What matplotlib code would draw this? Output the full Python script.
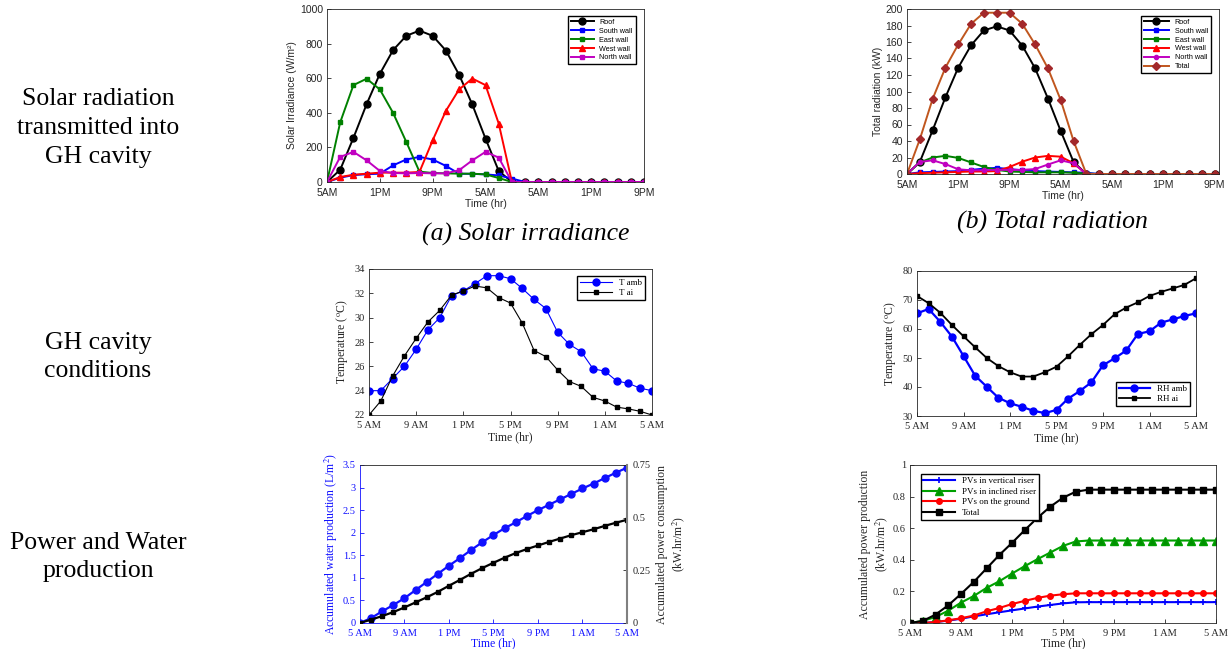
import matplotlib
matplotlib.use("Agg")
import matplotlib.pyplot as plt
import numpy as np

plt.rcParams['mathtext.fontset'] = 'stix'

# ---------------- data ----------------
hours = list(range(25))

# (a) Solar irradiance (W/m2)
roof_a  = [0, 71, 255, 450, 625, 762, 845, 875, 845, 760, 620, 448, 251, 64, 0] + [0]*10
south_a = [0, 25, 40, 45, 48, 96, 130, 145, 130, 93, 48, 47, 44, 38, 20] + [0]*10
east_a  = [0, 345, 560, 597, 535, 400, 232, 60, 52, 50, 48, 48, 44, 23, 0] + [0]*10
west_a  = [0, 29, 42, 48, 54, 54, 54, 58, 241, 411, 535, 598, 560, 338, 0] + [0]*10
north_a = [0, 145, 174, 125, 64, 52, 50, 52, 50, 50, 68, 125, 174, 141, 0] + [0]*10

# (b) Total radiation (kW)
roof_b  = [0, 14.6, 53, 93, 129, 156, 174, 179, 174, 155.5, 128, 91.5, 52, 14.6, 0] + [0]*10
south_b = [0, 2, 2.5, 3, 3.5, 5, 6.5, 7.5, 6, 4.5, 3.5, 3, 2.5, 2, 1.5] + [0]*10
east_b  = [0, 14, 20, 22, 19.5, 14, 8.5, 5, 3, 2.5, 2, 2, 2, 1.5, 0.5] + [0]*10
west_b  = [0, 1, 1.5, 2, 2.5, 3, 3, 3.5, 8.5, 15, 20, 22, 21, 13, 0] + [0]*10
north_b = [0, 14.6, 16.6, 12, 5.7, 4.5, 4.5, 5, 5, 5, 6, 11.5, 16.6, 13, 0] + [0]*10
total_b = [0, 42, 91, 129, 157, 182, 195.5, 195.5, 195.5, 182, 157, 128, 89.5, 40, 0] + [0]*10

# (c) Temperature
t_amb = [24.0, 24.0, 25.0, 26.0, 27.4, 29.0, 30.0, 31.8, 32.2, 32.8, 33.45, 33.45, 33.2,
         32.4, 31.5, 30.75, 28.8, 27.8, 27.2, 25.8, 25.6, 24.8, 24.6, 24.2, 24.0]
t_ai = [22.0, 23.15, 25.2, 26.85, 28.3, 29.65, 30.6, 31.85, 32.2, 32.6, 32.45, 31.65, 31.2,
        29.55, 27.3, 26.8, 25.7, 24.75, 24.35, 23.45, 23.15, 22.65, 22.5, 22.3, 22.0]

# (d) Relative humidity
rh_amb = [65.4, 66.9, 62.5, 57.4, 50.7, 43.9, 40.1, 36.3, 34.4, 33.2, 31.8, 31.0, 32.1,
          36.0, 38.6, 41.6, 47.5, 49.9, 52.6, 58.3, 59.2, 62.2, 63.3, 64.5, 65.4]
rh_ai = [71.4, 68.9, 65.6, 61.4, 57.5, 53.7, 50.0, 47.2, 45.1, 43.6, 43.6, 45.1, 47.0,
         50.6, 54.5, 58.2, 61.4, 65.1, 67.4, 69.2, 71.4, 72.8, 74.0, 75.2, 77.5]

# (e) Accumulated water production and power consumption
water = [0, 0.11, 0.26, 0.40, 0.55, 0.73, 0.91, 1.09, 1.27, 1.44, 1.62, 1.79, 1.95, 2.10,
         2.23, 2.37, 2.50, 2.62, 2.74, 2.86, 2.98, 3.09, 3.21, 3.33, 3.44]
power_cons = [0, 0.016, 0.033, 0.052, 0.074, 0.098, 0.122, 0.148, 0.177, 0.205, 0.234, 0.261,
              0.286, 0.310, 0.332, 0.351, 0.368, 0.385, 0.401, 0.417, 0.431, 0.445, 0.461,
              0.476, 0.490]

# (f) Accumulated power production
pv_vert = [0, 0, 0.006, 0.015, 0.027, 0.042, 0.055, 0.068, 0.080, 0.092, 0.104, 0.114,
           0.124, 0.131, 0.132] + [0.132]*10
pv_incl = [0, 0.013, 0.038, 0.078, 0.129, 0.171, 0.222, 0.264, 0.313, 0.360, 0.404, 0.446,
           0.488, 0.516, 0.522] + [0.522]*10
pv_ground = [0, 0, 0.006, 0.017, 0.030, 0.047, 0.074, 0.095, 0.120, 0.140, 0.159, 0.173,
             0.182, 0.188, 0.188] + [0.188]*10
pv_total = [0, 0.013, 0.053, 0.112, 0.184, 0.260, 0.345, 0.430, 0.507, 0.588, 0.666, 0.736,
            0.793, 0.831, 0.844] + [0.844]*10

ticks_ab = ['5AM', '1PM', '9PM', '5AM', '5AM', '1PM', '9PM']
ticks_cf = ['5 AM', '9 AM', '1 PM', '5 PM', '9 PM', '1 AM', '5 AM']

# ---------------- figure ----------------
W, H = 1229, 649
fig = plt.figure(figsize=(W/100, H/100), dpi=100)

def ax_at(l, r, t, b):
    return fig.add_axes([l/W, 1 - b/H, (r-l)/W, (b-t)/H])

SANS = 'Liberation Sans'
SERIF = 'Liberation Serif'
GRAY = '#262626'

def style(ax, family, fs, color=GRAY):
    ax.tick_params(direction='in', length=3, width=0.6, labelsize=fs, colors=color,
                   top=False, right=False)
    ax.tick_params(axis='x', pad=4)
    ax.tick_params(axis='y', pad=3)
    for lab in ax.get_xticklabels() + ax.get_yticklabels():
        lab.set_family(family)
    for s in ax.spines.values():
        s.set_linewidth(0.6)
        s.set_color(color)

# (a)
ax = ax_at(327, 644, 9, 182)
ax.plot(hours, roof_a, '-o', color='black', ms=5, lw=1.4, label='Roof')
ax.plot(hours, south_a, '-s', color='blue', ms=3, lw=1.4, label='South wall')
ax.plot(hours, east_a, '-s', color='#008000', ms=2.5, lw=1.4, label='East wall')
ax.plot(hours, west_a, '-^', color='red', ms=5, lw=1.4, label='West wall')
ax.plot(hours, north_a, '-s', color='#C000C0', ms=3, lw=1.4, label='North wall')
ax.set_xlim(0, 24)
ax.set_ylim(0, 1000)
ax.set_xticks(range(0, 25, 4))
ax.set_xticklabels(ticks_ab)
ax.set_yticks(range(0, 1001, 200))
style(ax, SANS, 7.5)
ax.set_xlabel('Time (hr)', family=SANS, fontsize=7.5, color=GRAY, labelpad=1)
ax.set_ylabel('Solar Irradiance (W/m²)', family=SANS, fontsize=7.5, color=GRAY, labelpad=2)
ax.legend(loc='upper right', prop={'family': SANS, 'size': 5.2}, fancybox=False,
          edgecolor='black', framealpha=1, borderpad=0.4, labelspacing=0.25,
          handlelength=3.2, bbox_to_anchor=(0.985, 0.98))

# (b)
ax = ax_at(907, 1219, 9, 174)
ax.plot(hours, roof_b, '-o', color='black', ms=5, lw=1.4, label='Roof')
ax.plot(hours, south_b, '-s', color='blue', ms=3, lw=1.4, label='South wall')
ax.plot(hours, east_b, '-s', color='#008000', ms=2.5, lw=1.4, label='East wall')
ax.plot(hours, west_b, '-^', color='red', ms=5, lw=1.4, label='West wall')
ax.plot(hours, north_b, '-o', color='#C000C0', ms=3, lw=1.4, label='North wall')
ax.plot(hours, total_b, '-D', color='#C0561E', mfc='#A3282A', mec='#A3282A', ms=4, lw=1.4,
        label='Total')
ax.set_xlim(0, 24.35)
ax.set_ylim(0, 200)
ax.set_xticks(range(0, 25, 4))
ax.set_xticklabels(ticks_ab)
ax.set_yticks(range(0, 201, 20))
style(ax, SANS, 7.5)
ax.set_xlabel('Time (hr)', family=SANS, fontsize=7.5, color=GRAY, labelpad=1)
ax.set_ylabel('Total radiation (kW)', family=SANS, fontsize=7.5, color=GRAY, labelpad=2)
ax.legend(loc='upper right', prop={'family': SANS, 'size': 5.2}, fancybox=False,
          edgecolor='black', framealpha=1, borderpad=0.4, labelspacing=0.25,
          handlelength=3.5, bbox_to_anchor=(0.985, 0.98))

# (c)
ax = ax_at(369, 652, 269, 415)
ax.plot(hours, t_amb, '-o', color='blue', ms=5, lw=0.8, label='T amb')
ax.plot(hours, t_ai, '-s', color='black', ms=3.5, lw=0.8, label='T ai')
ax.set_xlim(0, 24)
ax.set_ylim(22, 34)
ax.set_xticks(range(0, 25, 4))
ax.set_xticklabels(ticks_cf)
ax.set_yticks(range(22, 35, 2))
style(ax, SERIF, 7.5)
ax.set_xlabel('Time (hr)', family=SERIF, fontsize=8.5, color=GRAY, labelpad=1)
ax.set_ylabel('Temperature ($^{\\rm o}$C)', family=SERIF, fontsize=8.5, color=GRAY, labelpad=3)
ax.legend(loc='upper right', prop={'family': SERIF, 'size': 6.5}, fancybox=False,
          edgecolor='black', framealpha=1, borderpad=0.3, labelspacing=0.2,
          handlelength=3.5, bbox_to_anchor=(0.99, 0.985))

# (d)
ax = ax_at(917, 1196, 271, 416)
ax.plot(hours, rh_amb, '-o', color='blue', ms=5, lw=1.6, label='RH amb')
ax.plot(hours, rh_ai, '-s', color='black', ms=3.5, lw=1.3, label='RH ai')
ax.set_xlim(0, 24)
ax.set_ylim(30, 80)
ax.set_xticks(range(0, 25, 4))
ax.set_xticklabels(ticks_cf)
ax.set_yticks(range(30, 81, 10))
style(ax, SERIF, 7.5)
ax.set_xlabel('Time (hr)', family=SERIF, fontsize=8.5, color=GRAY, labelpad=1)
ax.set_ylabel('Temperature ($^{\\rm o}$C)', family=SERIF, fontsize=8.5, color=GRAY, labelpad=3)
ax.legend(loc='lower right', prop={'family': SERIF, 'size': 6.5}, fancybox=False,
          edgecolor='black', framealpha=1, borderpad=0.3, labelspacing=0.2,
          handlelength=3.5, bbox_to_anchor=(0.995, 0.04))

# (e)
BLUE = '#1010FF'
ax = ax_at(360, 627, 465, 623)
ax.plot(hours, water, '-o', color=BLUE, ms=5, lw=1.6)
ax.set_xlim(0, 24)
ax.set_ylim(0, 3.5)
ax.set_xticks(range(0, 25, 4))
ax.set_xticklabels(ticks_cf)
ax.set_yticks(np.arange(0, 3.51, 0.5))
ax.set_yticklabels(['0', '0.5', '1', '1.5', '2', '2.5', '3', '3.5'])
style(ax, SERIF, 7.5, color=BLUE)
ax.spines['right'].set_visible(False)
ax.spines['top'].set_color('#262626')
ax.set_xlabel('Time (hr)', family=SERIF, fontsize=8.5, color=BLUE, labelpad=0)
ax.set_ylabel('Accumulated water production (L/m$^2$)', family=SERIF, fontsize=8.5,
              color=BLUE, labelpad=2)
ax2 = ax.twinx()
ax2.plot(hours, power_cons, '-s', color='black', ms=3.2, lw=1.6)
ax2.set_ylim(0, 0.75)
ax2.set_yticks([0, 0.25, 0.5, 0.75])
ax2.set_yticklabels(['0', '0.25', '0.5', '0.75'])
ax2.tick_params(direction='in', length=3, width=0.6, labelsize=7.5, colors=GRAY, pad=4)
for lab in ax2.get_yticklabels():
    lab.set_family(SERIF)
for k, s in ax2.spines.items():
    s.set_visible(k == 'right')
ax2.spines['right'].set_color('#808080')
ax2.spines['right'].set_linewidth(1.5)
ax2.set_ylabel('Accumulated power consumption\n(kW.hr/m$^2$)', family=SERIF, fontsize=8.5,
               color=GRAY, labelpad=4, rotation=90)

# (f)
ax = ax_at(910, 1216, 465, 623)
ax.plot(hours, pv_vert, '-+', color='blue', ms=5, mew=1.2, lw=1.5,
        label='PVs in vertical riser')
ax.plot(hours, pv_incl, '-^', color='#00A000', mfc='#009000', ms=6, lw=1.5,
        label='PVs in inclined riser')
ax.plot(hours, pv_ground, '-o', color='red', ms=4, lw=1.5, label='PVs on the ground')
ax.plot(hours, pv_total, '-s', color='black', ms=4, lw=1.5, label='Total')
ax.set_xlim(0, 24)
ax.set_ylim(0, 1)
ax.set_xticks(range(0, 25, 4))
ax.set_xticklabels(ticks_cf)
ax.set_yticks([0, 0.2, 0.4, 0.6, 0.8, 1])
ax.set_yticklabels(['0', '0.2', '0.4', '0.6', '0.8', '1'])
style(ax, SERIF, 7.5)
ax.set_xlabel('Time (hr)', family=SERIF, fontsize=8.5, color=GRAY, labelpad=0)
ax.set_ylabel('Accumulated power production\n(kW.hr/m$^2$)', family=SERIF, fontsize=8.5,
              color=GRAY, labelpad=2)
ax.legend(loc='upper left', prop={'family': SERIF, 'size': 6.5}, fancybox=False,
          edgecolor='black', framealpha=1, borderpad=0.3, labelspacing=0.25,
          handlelength=3.5, bbox_to_anchor=(0.02, 0.97))

# row labels and captions
def ftext(x, y, s, **kw):
    fig.text(x/W, 1 - y/H, s, ha='center', va='center', **kw)

ftext(98, 128, 'Solar radiation\ntransmitted into\nGH cavity', family=SERIF, fontsize=18.5,
      linespacing=1.4)
ftext(98, 357, 'GH cavity\nconditions', family=SERIF, fontsize=18.5, linespacing=1.4)
ftext(98, 557, 'Power and Water\nproduction', family=SERIF, fontsize=18.5, linespacing=1.4)
ftext(526, 234, '(a) Solar irradiance', family=SERIF, fontsize=18.5, style='italic')
ftext(1052, 222, '(b) Total radiation', family=SERIF, fontsize=18.5, style='italic')

fig.savefig('out.png', dpi=100, facecolor='white')
